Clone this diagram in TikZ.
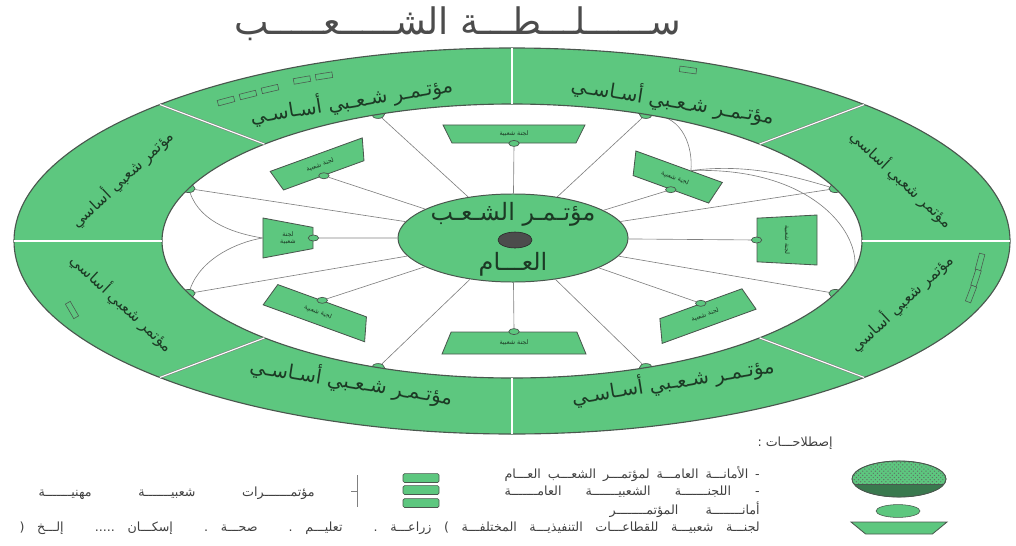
\documentclass[tikz,border=0pt]{standalone}
\usepackage{fontspec}
\usepackage{tikz}
\usetikzlibrary{shapes.geometric,patterns}
\newfontfamily\arabicfont[Script=Arabic]{DejaVu Sans}
\TeXXeTstate=1
\newcommand{\ar}[1]{{\arabicfont\beginR #1\endR}}
\definecolor{ringgreen}{HTML}{5DC77F}
\definecolor{edgegray}{HTML}{4A574E}
\definecolor{inkgreen}{HTML}{1C3A25}

\begin{document}
\begin{tikzpicture}[
    x=0.025cm, y=-0.025cm,
    sector/.style={font=\fontsize{14}{16}\selectfont, text=inkgreen, inner sep=0pt},
    knob/.style={ellipse, draw=edgegray, fill=ringgreen, inner sep=0pt, minimum width=0.32cm, minimum height=0.2cm, line width=0.5pt},
    cbox/.style={trapezium, trapezium stretches=true, trapezium left angle=70, trapezium right angle=70, draw=edgegray, fill=ringgreen, inner sep=0pt, line width=0.6pt, font=\fontsize{4.5}{5}\selectfont, text=inkgreen, align=center},
    tab/.style={ellipse, draw=edgegray, fill=ringgreen, inner sep=0pt, minimum width=0.26cm, minimum height=0.15cm, line width=0.5pt},
    spoke/.style={draw=black!50, line width=0.45pt},
    curveline/.style={draw=black!50, line width=0.45pt},
    divider/.style={draw=black!50, double=white, double distance=0.8pt, line width=0.4pt},
    sqr/.style={draw=edgegray, fill=ringgreen, inner sep=0pt, minimum width=0.42cm, minimum height=0.14cm, line width=0.4pt},
    mini/.style={draw=edgegray, fill=ringgreen, rounded corners=1pt, inner sep=0pt, minimum width=0.9cm, minimum height=0.22cm, line width=0.5pt},
    legtxt/.style={font=\fontsize{9}{10}\selectfont\arabicfont, anchor=east, text=black!75, inner sep=0pt}
  ]
  \useasboundingbox (0,0) rectangle (1016,545);

  % title
  \node[font=\fontsize{26}{28}\selectfont, text=black!70] (title) at (458,24) {\ar{ســــــلـــطـــة الشـــــعـــــب}};

  % general people's congress
  \node[ellipse, draw=edgegray, fill=ringgreen, line width=0.7pt, minimum width=5.75cm, minimum height=2.2cm] (gpc) at (513,238) {};

  % knobs on the inner edge
  \foreach \n/\a in {1/-157.5,2/-112.5,3/-67.5,4/-22.5,5/22.5,6/67.5,7/112.5,8/157.5}
    \node[knob] (k\n) at ({512+350*cos(\a)},{241+137*sin(\a)}) {};

  % people's committees
  \node[cbox, shape border rotate=180, minimum width=3.55cm, minimum height=0.45cm] (bT) at (514,134) {\ar{لجنة شعبية}};
  \node[cbox, minimum width=3.6cm, minimum height=0.55cm] (bB) at (514,343) {\ar{لجنة شعبية}};
  \node[cbox, rotate=20, shape border rotate=180, minimum width=2.45cm, minimum height=0.55cm] (bTL) at (320,165) {\ar{لجنة شعبية}};
  \node[cbox, rotate=-20, minimum width=2.7cm, minimum height=0.6cm] (bBL) at (318,312) {\ar{لجنة شعبية}};
  \node[cbox, rotate=-20, shape border rotate=180, minimum width=2.3cm, minimum height=0.6cm] (bTR) at (675,178) {\ar{لجنة شعبية}};
  \node[cbox, rotate=20, minimum width=2.5cm, minimum height=0.6cm] (bBR) at (705,315) {\ar{لجنة شعبية}};
  \node[cbox, shape border rotate=270, minimum width=1.0cm, minimum height=1.25cm] (bL) at (288,238) {\ar{لجنة}\\\ar{شعبية}};
  \node[cbox, rotate=-90, shape border rotate=180, minimum width=1.25cm, minimum height=1.5cm] (bR) at (787,240) {\ar{لجنة شعبية}};

  % tabs
  \node[tab] (tT) at (bT.south) {};
  \node[tab] (tB) at (bB.north) {};
  \node[tab] (tTL) at (bTL.south) {};
  \node[tab] (tBL) at (bBL.north) {};
  \node[tab] (tTR) at (bTR.south) {};
  \node[tab] (tBR) at (bBR.north) {};
  \node[tab] (tL) at (bL.east) {};
  \node[tab] (tR) at (bR.south) {};

  % spokes
  \foreach \n in {1,...,8}
    \draw[spoke] (gpc) -- (k\n);
  \foreach \t in {tT,tB,tL,tR,tTL,tTR,tBL,tBR}
    \draw[spoke] (gpc) -- (\t);

  % links between committees and knobs
  \draw[curveline] (k1) .. controls +(12,35) and +(-25,-4) .. (bL.west);
  \draw[curveline] (k8) .. controls +(12,-35) and +(-25,4) .. (bL.west);
  \draw[curveline] (k3) .. controls +(38,2) and +(2,-22) .. (bTR.north east);
  \draw[curveline] (bTR.north east) .. controls +(60,-8) and +(-35,-10) .. (k4);
  \draw[curveline] (bTR.north east) .. controls +(150,-5) and +(45,-25) .. (k5);

  % ring of basic congresses
  \fill[ringgreen, even odd rule] (512,241) ellipse [x radius=498, y radius=193] (512,241) ellipse [x radius=350, y radius=137];
  \draw[edgegray, line width=0.8pt] (512,241) ellipse [x radius=498, y radius=193];
  \draw[edgegray, line width=0.8pt] (512,241) ellipse [x radius=350, y radius=137];
  \foreach \a in {0,45,...,315}
    \draw[divider] ({512+350*cos(\a)},{241+137*sin(\a)}) -- ({512+498*cos(\a)},{241+193*sin(\a)});

  \foreach \n/\a/\r in {1/-157.5/43,4/-22.5/-43,5/22.5/43,8/157.5/-43}
    \node[sector, font=\fontsize{11}{13}\selectfont, rotate=\r] (s\n) at ({512+422*cos(\a)},{241+162*sin(\a)}) {\ar{مؤتمر شعبي أساسي}};
  \foreach \n/\a/\r in {2/-112.5/9,3/-67.5/-9,6/67.5/9,7/112.5/-9}
    \node[sector, rotate=\r] (s\n) at ({512+420*cos(\a)},{241+152*sin(\a)}) {\ar{مؤتـمـر شـعـبي أسـاسـي}};

  % small marks in the ring
  \node[sqr, rotate=15] (q1) at (226,101) {};
  \node[sqr, rotate=14] (q2) at (248,95) {};
  \node[sqr, rotate=13] (q3) at (270,89) {};
  \node[sqr, rotate=10] (q4) at (302,80) {};
  \node[sqr, rotate=9] (q5) at (324,76) {};
  \node[sqr, rotate=-8] (q6) at (688,70) {};
  \node[sqr, rotate=75] (q7) at (980,262) {};
  \node[sqr, rotate=72] (q8) at (976,278) {};
  \node[sqr, rotate=69] (q9) at (971,294) {};
  \node[sqr, rotate=-60] (q10) at (72,310) {};

  % centre lettering
  \node[font=\fontsize{17}{19}\selectfont, text=inkgreen] (gpcTop) at (513,214) {\ar{مؤتـمـر الشـعـب}};
  \node[font=\fontsize{17}{19}\selectfont, text=inkgreen] (gpcBot) at (513,264) {\ar{العـــام}};
  \node[ellipse, fill=black!70, draw=black!85, inner sep=0pt, minimum width=0.85cm, minimum height=0.4cm] (gpcDot) at (515,240) {};

  % legend
  \node[legtxt] (lgHead) at (833,443) {\beginR إصطلاحـــات :\endR};
  \node[ellipse, draw=edgegray, fill=ringgreen, inner sep=0pt, minimum width=2.35cm, minimum height=0.9cm] (lgGen) at (899,479) {};
  \fill[pattern=crosshatch dots, pattern color=inkgreen!70] (899,479) ellipse [x radius=47, y radius=18];
  \begin{scope}
    \clip (899,479) ellipse [x radius=47, y radius=18];
    \fill[inkgreen!55!ringgreen] (850,484) rectangle (950,498);
    \draw[edgegray] (850,484) -- (950,484);
  \end{scope}
  \draw[edgegray, line width=0.6pt] (899,479) ellipse [x radius=47, y radius=18];
  \node[ellipse, draw=edgegray, fill=ringgreen, inner sep=0pt, minimum width=1.1cm, minimum height=0.32cm] (lgSec) at (898,511) {};
  \node[cbox, shape border rotate=180, minimum width=2.4cm, minimum height=0.3cm] (lgCom) at (899,528) {\phantom{x}};

  \node[legtxt] (lgTxtA) at (760,474) {\hbox to 6.375cm{\beginR - الأمانـــة العامـــة لمؤتمـــر الشعـــب العـــام\endR}};
  \node[legtxt] (lgTxtB) at (760,492) {\hbox to 6.375cm{\beginR - اللجنـــــــة الشعبيـــــــة العامـــــــة\endR}};
  \node[legtxt] (lgTxtC) at (760,510) {\hbox to 3.75cm{\beginR أمانــــــــة المؤتمــــــــر\endR}};
  \node[legtxt] (lgTxtD) at (760,528) {\hbox to 18.5cm{\beginR لجنـــة شعبيـــة للقطاعـــات التنفيذيـــة المختلفـــة ) زراعـــة . تعليـــم . صحـــة . إسكـــان ..... إلـــخ (\endR}};

  \foreach \n/\y in {1/478,2/490,3/503}
    \node[mini] (lgR\n) at (421,\y) {};
  \draw[black!50] (357,475) -- (357,507) (357,491) -- (351,491);
  \node[legtxt] (lgProf) at (315,493) {\hbox to 6.9cm{\beginR مؤتمـــــــرات شعبيـــــــة مهنيـــــــة\endR}};
\end{tikzpicture}
\end{document}
